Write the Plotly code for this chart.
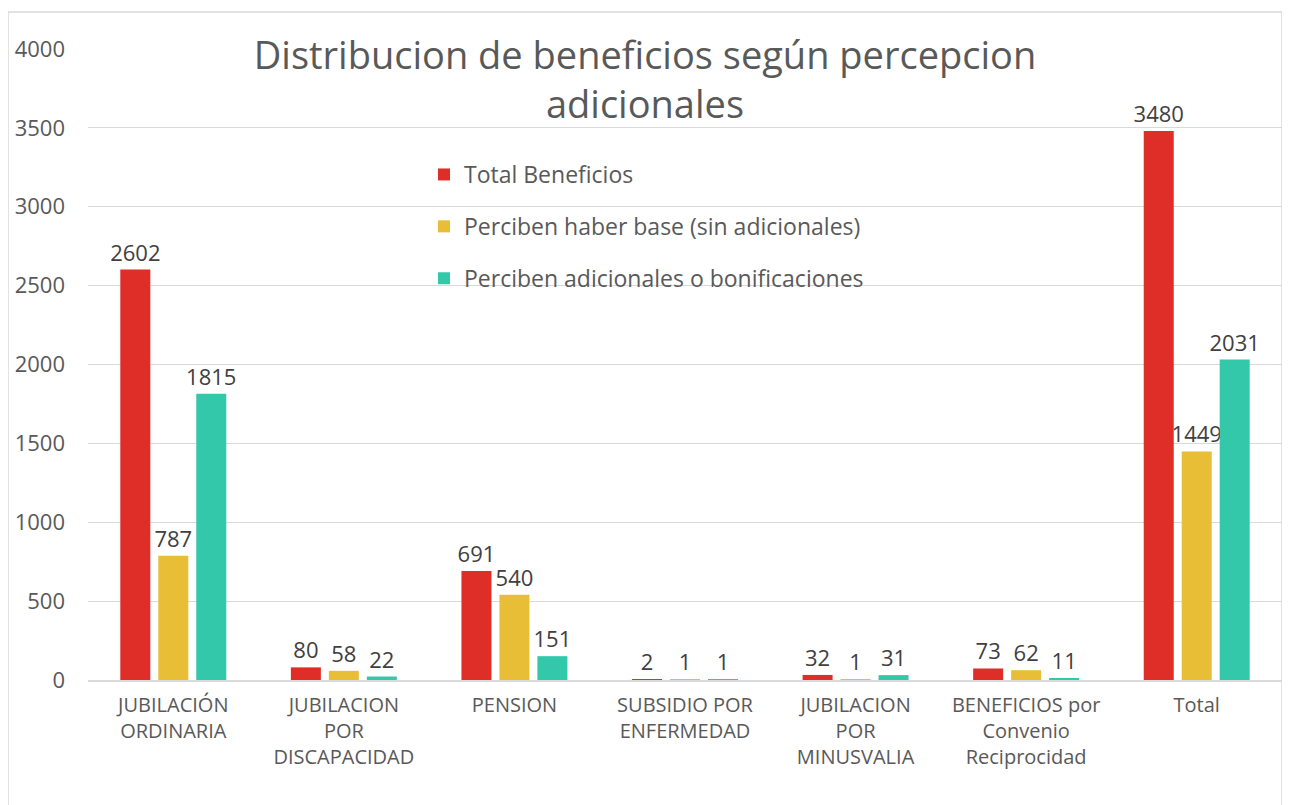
import plotly.graph_objects as go

categories = [
    "JUBILACIÓN<br>ORDINARIA",
    "JUBILACION<br>POR<br>DISCAPACIDAD",
    "PENSION",
    "SUBSIDIO POR<br>ENFERMEDAD",
    "JUBILACION<br>POR<br>MINUSVALIA",
    "BENEFICIOS por<br>Convenio<br>Reciprocidad",
    "Total",
]
total_beneficios = [2602, 80, 691, 2, 32, 73, 3480]
haber_base = [787, 58, 540, 1, 1, 62, 1449]
adicionales = [1815, 22, 151, 1, 31, 11, 2031]

series_names = [
    "Total Beneficios",
    "Perciben haber base (sin adicionales)",
    "Perciben adicionales o bonificaciones",
]
series_values = [total_beneficios, haber_base, adicionales]
colors = ["#DF2E28", "#E8BE37", "#33C8A9"]

FONT = "Open Sans"

fig = go.Figure()
for i, (name, vals, col) in enumerate(zip(series_names, series_values, colors)):
    fig.add_trace(go.Bar(
        x=categories, y=vals, name=name,
        marker=dict(color=col, line=dict(width=0)),
        text=[str(v) for v in vals], textposition="outside",
        textfont=dict(family=FONT, size=22, color="#404040"),
        constraintext="none", cliponaxis=False,
        legendgroup=f"g{i}",
    ))

# page has an 8px body margin: figure origin at (8, 8)
OFF = 8
W, H = 1290 - OFF, 805 - OFF
L, R, T, B = 80, 8, 41, 125
pw, ph = W - L - R, H - T - B


def px_x(x):  # page x -> paper x
    return (x - OFF - L) / pw


def px_y(y):  # page y -> paper y
    return (OFF + T + ph - y) / ph


fig.update_layout(
    width=W, height=H,
    margin=dict(l=L, r=R, t=T, b=B, pad=0),
    paper_bgcolor="white", plot_bgcolor="white",
    barmode="group", bargap=0.332, bargroupgap=0.21,
    title=dict(
        text="Distribucion de beneficios según percepcion<br>adicionales",
        x=(645 - OFF) / W, xanchor="center", xref="container",
        y=1 - (69 - OFF) / H, yanchor="middle", yref="container",
        font=dict(family=FONT, size=38, color="#595959"),
    ),
    font=dict(family=FONT, color="#595959"),
    legend=dict(
        x=px_x(424), y=px_y(153), xanchor="left", yanchor="top",
        font=dict(family=FONT, size=23, color="#595959"),
        bgcolor="rgba(0,0,0,0)", tracegroupgap=19,
        itemwidth=30,
    ),
    showlegend=True,
)
fig.update_yaxes(
    range=[0, 4000], dtick=500, showgrid=True, gridcolor="#D9D9D9", gridwidth=1,
    zeroline=False, showline=False, ticks="",
    tickfont=dict(family=FONT, size=22, color="#595959"),
    ticklabelstandoff=22,
)
fig.update_xaxes(
    showline=True, linecolor="#D9D9D9", linewidth=1.5, ticks="",
    tickfont=dict(family=FONT, size=20, color="#595959"),
    ticklabelstandoff=6, tickangle=0,
)
# chart border
fig.add_shape(type="rect", xref="paper", yref="paper",
              x0=px_x(8), x1=px_x(1282),
              y0=px_y(830), y1=px_y(12),
              line=dict(color="#D9D9D9", width=1.5), fillcolor="rgba(0,0,0,0)",
              layer="below")

fig.write_html("out.html")
